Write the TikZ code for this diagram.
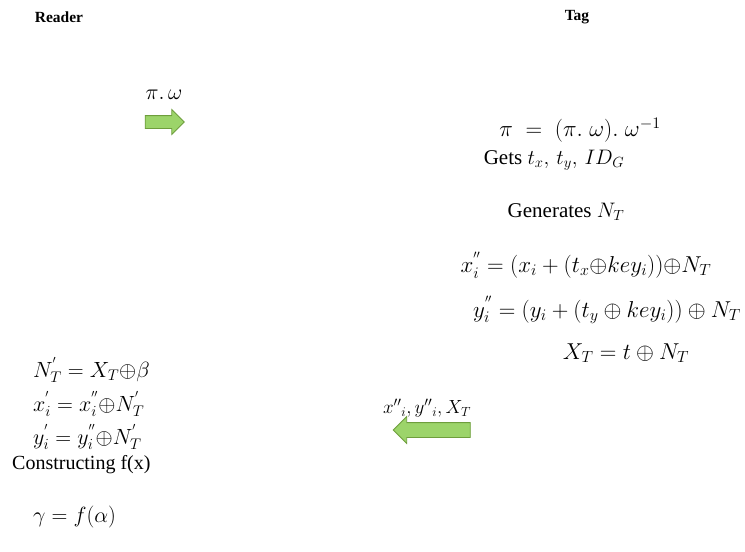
\RequirePackage{fix-cm}
\documentclass[tikz,border=0pt]{standalone}
\usepackage{fontspec}
\setmainfont{Liberation Serif}
\usetikzlibrary{shapes.arrows}
\definecolor{arrfill}{HTML}{9CD46A}
\definecolor{arrdraw}{HTML}{6E9E3C}
\tikzset{
  txt/.style={inner sep=0pt, font=\fontsize{21}{25}\selectfont},
  mth/.style={inner sep=0pt, font=\fontsize{22}{26}\selectfont},
  bigmth/.style={inner sep=0pt, font=\fontsize{23}{27}\selectfont},
  hdr/.style={inner sep=0pt, font=\fontsize{15.5}{18}\selectfont\bfseries},
  blockarrow/.style={single arrow, fill=arrfill, draw=arrdraw, line width=0.8pt,
    inner xsep=0pt, single arrow head extend=6pt}
}
\begin{document}
\begin{tikzpicture}[x=1pt,y=-1pt]
\useasboundingbox[fill=white] (0,0) rectangle (745,552);
% headers
\node[hdr] (reader) at (59,17) {Reader};
\node[hdr] (tag) at (577,17) {Tag};
% first message
\node[mth] (m1) at (164,95) {$\pi.\,\omega$};
\node[blockarrow, inner ysep=6pt, minimum height=39pt] (a1) at (161.5,122) {};
% tag computations
\node[bigmth] (t1) at (580,130) {$\pi\;=\;(\pi.\;\omega).\;\omega^{-1}$};
\node[txt] (t2) at (554,160) {Gets $t_x,\,t_y,\,ID_G$};
\node[txt] (t3) at (566,212) {Generates $N_T$};
\node[bigmth] (t4) at (586,265) {$x_i^{''}=(x_i+(t_x{\oplus}key_i)){\oplus}N_T$};
\node[bigmth] (t5) at (607,310) {$y_i^{''}=(y_i+(t_y\oplus key_i))\oplus N_T$};
\node[bigmth] (t6) at (626,353) {$X_T=t\oplus N_T$};
% second message
\node[txt, font=\fontsize{19}{23}\selectfont] (m2) at (427,408) {$x^{\prime\prime}{}_i,y^{\prime\prime}{}_i,X_T$};
\node[blockarrow, inner ysep=7pt, minimum height=77pt, shape border rotate=180] (a2) at (435.5,430) {};
% reader computations
\node[mth, anchor=west] (r1) at (33,370) {$N_T^{'}=X_T{\oplus}\beta$};
\node[mth, anchor=west] (r2) at (33,404) {$x_i^{'}=x_i^{''}{\oplus}N_T^{'}$};
\node[mth, anchor=west] (r3) at (33,437) {$y_i^{'}=y_i^{''}{\oplus}N_T^{'}$};
\node[txt, font=\fontsize{20}{24}\selectfont, anchor=west] (r4) at (12,465) {Constructing f(x)};
\node[mth, anchor=west] (r5) at (33,517) {$\gamma=f(\alpha)$};
\end{tikzpicture}
\end{document}
